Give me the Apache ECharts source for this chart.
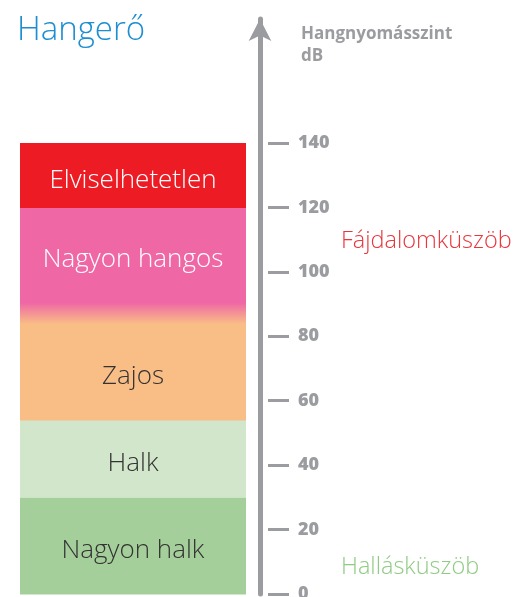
<!DOCTYPE html>
<html>
<head>
<meta charset="utf-8">
<script src="https://cdn.jsdelivr.net/npm/echarts@6/dist/echarts.min.js"></script>
<style>
  html, body { margin: 0; padding: 0; background: #ffffff; }
  #chart { width: 515px; height: 597px; }
</style>
</head>
<body>
<div id="chart"></div>
<script>
// ---- data ----
const bandNames = ['Nagyon halk', 'Halk', 'Zajos', 'Nagyon hangos', 'Elviselhetetlen'];
const bandFrom = [0, 30, 54, 84, 120];
const bandTo = [30, 54, 84, 120, 140];
const tickValues = [0, 20, 40, 60, 80, 100, 120, 140];
const thresholdNames = ['Fájdalomküszöb', 'Hallásküszöb'];
const thresholdValues = [110, 9];
const titleText = 'Hangerő';
const axisTitle = 'Hangnyomásszint\ndB';

// ---- styles ----
const bandColors = ['#a5cf9a', '#d2e6cb', '#f9bd86', '#ef68a5', '#ed1c24'];
const bandTextColors = ['#333333', '#333333', '#333333', '#ffffff', '#ffffff'];
const thresholdColors = ['#e8363d', '#8fcb84'];
const FADE_DB = 6.5;           // pink fades into orange at its bottom
const GREY = '#9b9ca0';
const FONT = '"Open Sans", "Noto Sans", sans-serif';
const BAND_LEFT_GAP = 240;     // band left edge, px left of the axis line
const BAND_WIDTH = 226;
const LABEL_DY = 5;
const THRESH_DY = 2;

const chart = echarts.init(document.getElementById('chart'), null, { renderer: 'canvas' });

const bandData = bandNames.map((n, i) => [bandFrom[i], bandTo[i], i]);
const thresholdData = thresholdNames.map((n, i) => [thresholdValues[i], i]);

chart.setOption({
  animation: false,
  backgroundColor: '#ffffff',
  title: [
    {
      text: titleText, left: 12, top: 9,
      textStyle: { fontFamily: FONT, fontWeight: 300, fontSize: 33, color: '#1d8ed2' }
    },
    {
      text: axisTitle, left: 296, top: 18,
      textStyle: { fontFamily: FONT, fontWeight: 700, fontSize: 17, color: GREY, lineHeight: 22 }
    }
  ],
  grid: { left: 260, right: 247, top: 19, bottom: 3, outerBoundsMode: 'none', containLabel: false },
  xAxis: { type: 'value', min: 0, max: 1, show: false },
  yAxis: [
    {
      type: 'value', min: 0, max: 178.5, position: 'left',
      axisLine: { show: true, symbol: ['none', 'arrow'], symbolSize: [17, 22],
        lineStyle: { color: GREY, width: 5 } },
      axisTick: { show: false }, axisLabel: { show: false }, splitLine: { show: false }
    },
    {
      type: 'value', min: 0, max: 178.5, position: 'right',
      axisLine: { show: false },
      axisTick: { show: true, length: 21, customValues: tickValues,
        lineStyle: { color: GREY, width: 3 } },
      axisLabel: { show: true, customValues: tickValues, margin: 30,
        fontFamily: FONT, fontWeight: 800, fontSize: 18, color: GREY },
      splitLine: { show: false }
    }
  ],
  series: [
    {
      type: 'custom',
      clip: false,
      data: bandData,
      encode: { y: [0, 1] },
      renderItem: function (params, api) {
        const i = api.value(2);
        const lo = api.value(0), hi = api.value(1);
        const yTop = api.coord([0, hi])[1];
        const yBot = api.coord([0, lo])[1];
        const x0 = params.coordSys.x - BAND_LEFT_GAP;
        let fill = bandColors[i];
        let solidLo = lo;
        if (i === 3) {
          solidLo = lo + FADE_DB;
          const stop = (hi - solidLo) / (hi - lo);
          fill = new echarts.graphic.LinearGradient(0, 0, 0, 1, [
            { offset: 0, color: bandColors[3] },
            { offset: stop, color: bandColors[3] },
            { offset: 1, color: bandColors[2] }
          ]);
        }
        const cy = api.coord([0, (solidLo + hi) / 2])[1] + LABEL_DY;
        return {
          type: 'group',
          children: [
            { type: 'rect', shape: { x: x0, y: yTop, width: BAND_WIDTH, height: yBot - yTop + 0.5 },
              style: { fill: fill } },
            { type: 'text', x: x0 + BAND_WIDTH / 2, y: cy, z2: 10,
              style: { text: bandNames[i], fill: bandTextColors[i], align: 'center', verticalAlign: 'middle',
                fontFamily: FONT, fontWeight: 300, fontSize: 26 } }
          ]
        };
      }
    },
    {
      type: 'custom',
      clip: false,
      data: thresholdData,
      encode: { y: 0 },
      renderItem: function (params, api) {
        const i = api.value(1);
        const y = api.coord([0, api.value(0)])[1] + THRESH_DY;
        return {
          type: 'text', x: params.coordSys.x + 81, y: y,
          style: { text: thresholdNames[i], fill: thresholdColors[i], align: 'left', verticalAlign: 'middle',
            fontFamily: FONT, fontWeight: 300, fontSize: 23.5 }
        };
      }
    }
  ]
});
</script>
</body>
</html>
